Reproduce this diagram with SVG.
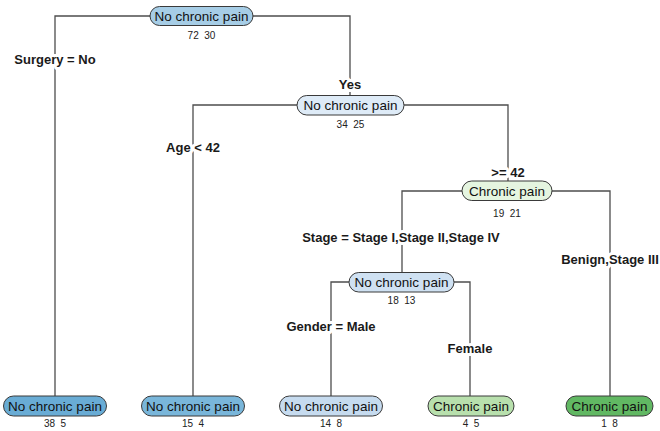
<svg xmlns="http://www.w3.org/2000/svg" width="660" height="431" viewBox="0 0 660 431">
<style>
.bg{fill:#ffffff}
.edge{fill:none;stroke:#4d4d4d;stroke-width:1.3}
.pill{stroke:#3a3a3a;stroke-width:1}
.nt{font-family:"Liberation Sans",Arial,sans-serif;font-size:13.5px;fill:#111;text-anchor:middle}
.num{font-family:"Liberation Sans",Arial,sans-serif;font-size:10px;fill:#222;text-anchor:middle;white-space:pre}
.lab{font-family:"Liberation Sans",Arial,sans-serif;font-size:13px;font-weight:bold;fill:#1a1a1a;text-anchor:middle;stroke:#fff;stroke-width:6px;paint-order:stroke;stroke-linejoin:round}
</style>
<rect class="bg" x="0" y="0" width="660" height="431"/>
<g id="connectors">
<path class="edge" d="M55,397 V16 H350 V96"/>
<path class="edge" d="M193,397 V105 H508 V182"/>
<path class="edge" d="M402,273 V191 H610 V397"/>
<path class="edge" d="M331,397 V282 H470 V397"/>
</g>
<g id="edge-labels">
<text class="lab" x="55" y="64">Surgery = No</text>
<text class="lab" x="350" y="89">Yes</text>
<text class="lab" x="193" y="152">Age &lt; 42</text>
<text class="lab" x="508" y="177">&gt;= 42</text>
<text class="lab" x="401" y="242">Stage = Stage I,Stage II,Stage IV</text>
<text class="lab" x="610" y="264">Benign,Stage III</text>
<text class="lab" x="331" y="331">Gender = Male</text>
<text class="lab" x="470" y="353">Female</text>
</g>
<g id="node-root">
<rect class="pill" x="150" y="6.5" width="103" height="19" rx="9.5" fill="#a6cde6"/>
<text class="nt" x="201.5" y="21">No chronic pain</text>
<text class="num" x="201.5" y="39">72  30</text>
</g>
<g id="node-2">
<rect class="pill" x="297" y="95.5" width="107" height="19.5" rx="9.75" fill="#deebf7"/>
<text class="nt" x="350.5" y="110">No chronic pain</text>
<text class="num" x="350.5" y="128">34  25</text>
</g>
<g id="node-3">
<rect class="pill" x="462" y="181" width="90" height="19.5" rx="9.75" fill="#e5f5e0"/>
<text class="nt" x="507" y="195.5">Chronic pain</text>
<text class="num" x="507" y="217">19  21</text>
</g>
<g id="node-4">
<rect class="pill" x="349" y="272.5" width="105" height="19.5" rx="9.75" fill="#cfe1f2"/>
<text class="nt" x="401.5" y="287">No chronic pain</text>
<text class="num" x="401.5" y="304">18  13</text>
</g>
<g id="leaf-1">
<rect class="pill" x="3.5" y="396" width="103" height="20" rx="10" fill="#69acd5"/>
<text class="nt" x="55" y="411">No chronic pain</text>
<text class="num" x="55" y="427">38  5</text>
</g>
<g id="leaf-2">
<rect class="pill" x="141.5" y="396" width="103" height="20" rx="10" fill="#79b6da"/>
<text class="nt" x="193" y="411">No chronic pain</text>
<text class="num" x="193" y="427">15  4</text>
</g>
<g id="leaf-3">
<rect class="pill" x="279.5" y="396" width="103" height="20" rx="10" fill="#c6dbef"/>
<text class="nt" x="331" y="411">No chronic pain</text>
<text class="num" x="331" y="427">14  8</text>
</g>
<g id="leaf-4">
<rect class="pill" x="428" y="396" width="86" height="20" rx="10" fill="#b8e0ad"/>
<text class="nt" x="471" y="411">Chronic pain</text>
<text class="num" x="471" y="427">4  5</text>
</g>
<g id="leaf-5">
<rect class="pill" x="566" y="396" width="87" height="20" rx="10" fill="#61b863"/>
<text class="nt" x="609.5" y="411">Chronic pain</text>
<text class="num" x="609.5" y="427">1  8</text>
</g>
</svg>
